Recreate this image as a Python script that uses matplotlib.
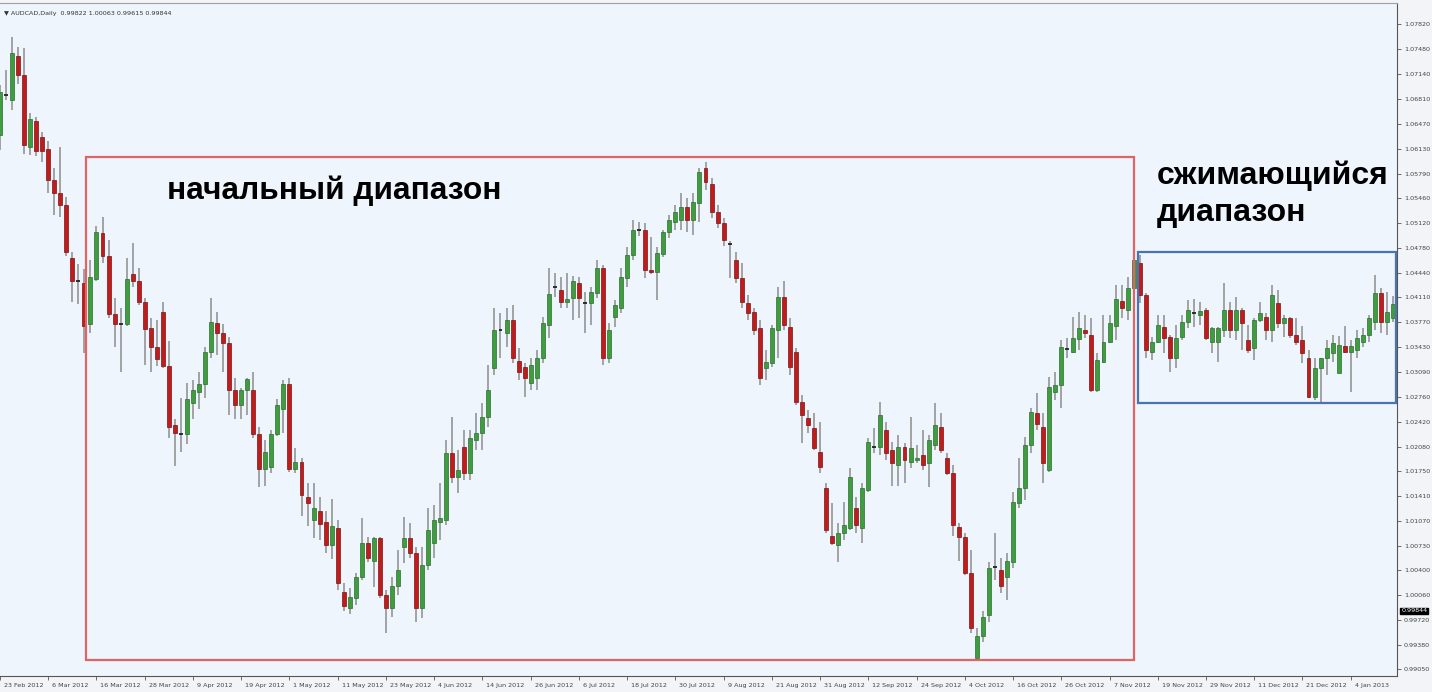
import matplotlib
matplotlib.use("Agg")
import matplotlib.pyplot as plt
from matplotlib.patches import Rectangle
import numpy as np

# AUDCAD daily candles (bar index = trading day)
opens = [1.0631, 1.0686, 1.0679, 1.0739, 1.0713, 1.0615, 1.0650, 1.0629, 1.0612, 1.0570,
         1.0553, 1.0536, 1.0464, 1.0433, 1.0430, 1.0374, 1.0436, 1.0498, 1.0467, 1.0388,
         1.0374, 1.0374, 1.0442, 1.0433, 1.0404, 1.0369, 1.0343, 1.0391, 1.0317, 1.0237,
         1.0225, 1.0225, 1.0267, 1.0282, 1.0293, 1.0336, 1.0376, 1.0362, 1.0349, 1.0285,
         1.0264, 1.0285, 1.0285, 1.0225, 1.0177, 1.0180, 1.0225, 1.0259, 1.0293, 1.0177,
         1.0187, 1.0139, 1.0108, 1.0121, 1.0105, 1.0074, 1.0097, 1.0010, 0.9988, 1.0002,
         1.0030, 1.0077, 1.0053, 1.0083, 1.0006, 0.9989, 1.0019, 1.0071, 1.0083, 1.0063,
         0.9989, 1.0047, 1.0077, 1.0105, 1.0108, 1.0199, 1.0166, 1.0207, 1.0172, 1.0217,
         1.0227, 1.0248, 1.0315, 1.0366, 1.0363, 1.0380, 1.0324, 1.0316, 1.0294, 1.0301,
         1.0329, 1.0373, 1.0425, 1.0421, 1.0404, 1.0410, 1.0430, 1.0403, 1.0403, 1.0417,
         1.0451, 1.0329, 1.0384, 1.0397, 1.0437, 1.0468, 1.0502, 1.0502, 1.0448, 1.0445,
         1.0470, 1.0499, 1.0513, 1.0516, 1.0533, 1.0516, 1.0539, 1.0587, 1.0565, 1.0527,
         1.0512, 1.0483, 1.0461, 1.0437, 1.0403, 1.0391, 1.0369, 1.0315, 1.0321, 1.0366,
         1.0411, 1.0370, 1.0336, 1.0268, 1.0247, 1.0233, 1.0200, 1.0151, 1.0087, 1.0074,
         1.0090, 1.0097, 1.0125, 1.0097, 1.0149, 1.0207, 1.0207, 1.0230, 1.0203, 1.0183,
         1.0207, 1.0187, 1.0189, 1.0196, 1.0185, 1.0210, 1.0234, 1.0193, 1.0172, 1.0098,
         1.0085, 1.0036, 0.9921, 0.9951, 0.9979, 1.0044, 1.0040, 1.0030, 1.0051, 1.0131,
         1.0151, 1.0210, 1.0253, 1.0234, 1.0176, 1.0282, 1.0291, 1.0340, 1.0336, 1.0354,
         1.0366, 1.0359, 1.0285, 1.0323, 1.0350, 1.0372, 1.0406, 1.0393, 1.0423, 1.0457,
         1.0414, 1.0336, 1.0350, 1.0370, 1.0357, 1.0328, 1.0357, 1.0377, 1.0389, 1.0387,
         1.0393, 1.0350, 1.0350, 1.0366, 1.0393, 1.0366, 1.0393, 1.0353, 1.0342, 1.0380,
         1.0384, 1.0366, 1.0403, 1.0376, 1.0383, 1.0359, 1.0353, 1.0329, 1.0275, 1.0315,
         1.0328, 1.0335, 1.0308, 1.0344, 1.0336, 1.0339, 1.0350, 1.0359, 1.0377, 1.0417,
         1.0377, 1.0383]
highs = [1.0699, 1.0720, 1.0765, 1.0751, 1.0750, 1.0661, 1.0656, 1.0635, 1.0623, 1.0587,
         1.0615, 1.0547, 1.0472, 1.0456, 1.0449, 1.0461, 1.0508, 1.0520, 1.0489, 1.0410,
         1.0396, 1.0464, 1.0485, 1.0451, 1.0410, 1.0383, 1.0380, 1.0404, 1.0351, 1.0245,
         1.0274, 1.0295, 1.0298, 1.0309, 1.0343, 1.0410, 1.0391, 1.0374, 1.0357, 1.0301,
         1.0287, 1.0301, 1.0309, 1.0234, 1.0217, 1.0230, 1.0273, 1.0298, 1.0301, 1.0206,
         1.0192, 1.0158, 1.0158, 1.0139, 1.0121, 1.0136, 1.0108, 1.0023, 1.0015, 1.0036,
         1.0111, 1.0085, 1.0085, 1.0085, 1.0013, 1.0030, 1.0067, 1.0112, 1.0104, 1.0071,
         1.0071, 1.0125, 1.0128, 1.0158, 1.0217, 1.0248, 1.0203, 1.0230, 1.0230, 1.0253,
         1.0267, 1.0319, 1.0396, 1.0389, 1.0397, 1.0400, 1.0342, 1.0321, 1.0328, 1.0339,
         1.0384, 1.0451, 1.0444, 1.0438, 1.0444, 1.0440, 1.0438, 1.0418, 1.0425, 1.0461,
         1.0455, 1.0376, 1.0407, 1.0451, 1.0479, 1.0516, 1.0513, 1.0512, 1.0493, 1.0479,
         1.0502, 1.0523, 1.0536, 1.0553, 1.0546, 1.0553, 1.0587, 1.0595, 1.0573, 1.0536,
         1.0519, 1.0487, 1.0472, 1.0457, 1.0414, 1.0397, 1.0380, 1.0339, 1.0373, 1.0425,
         1.0433, 1.0383, 1.0342, 1.0278, 1.0257, 1.0253, 1.0241, 1.0159, 1.0131, 1.0104,
         1.0132, 1.0179, 1.0139, 1.0158, 1.0219, 1.0233, 1.0268, 1.0241, 1.0214, 1.0223,
         1.0213, 1.0248, 1.0210, 1.0230, 1.0223, 1.0267, 1.0253, 1.0199, 1.0183, 1.0104,
         1.0090, 1.0067, 0.9961, 0.9985, 1.0051, 1.0090, 1.0056, 1.0063, 1.0146, 1.0193,
         1.0221, 1.0261, 1.0281, 1.0253, 1.0302, 1.0309, 1.0353, 1.0355, 1.0384, 1.0391,
         1.0387, 1.0383, 1.0335, 1.0387, 1.0387, 1.0427, 1.0427, 1.0438, 1.0471, 1.0468,
         1.0417, 1.0357, 1.0387, 1.0387, 1.0359, 1.0373, 1.0387, 1.0407, 1.0408, 1.0404,
         1.0396, 1.0370, 1.0370, 1.0430, 1.0404, 1.0411, 1.0396, 1.0373, 1.0383, 1.0404,
         1.0389, 1.0427, 1.0421, 1.0387, 1.0384, 1.0383, 1.0372, 1.0339, 1.0328, 1.0329,
         1.0353, 1.0359, 1.0358, 1.0372, 1.0353, 1.0366, 1.0369, 1.0387, 1.0441, 1.0423,
         1.0418, 1.0412]
lows = [1.0611, 1.0679, 1.0665, 1.0701, 1.0606, 1.0604, 1.0603, 1.0595, 1.0553, 1.0523,
        1.0520, 1.0467, 1.0404, 1.0402, 1.0335, 1.0362, 1.0433, 1.0457, 1.0383, 1.0343,
        1.0309, 1.0372, 1.0425, 1.0400, 1.0319, 1.0309, 1.0317, 1.0315, 1.0219, 1.0181,
        1.0200, 1.0211, 1.0245, 1.0259, 1.0274, 1.0329, 1.0332, 1.0309, 1.0251, 1.0245,
        1.0245, 1.0251, 1.0219, 1.0153, 1.0155, 1.0172, 1.0222, 1.0226, 1.0174, 1.0172,
        1.0113, 1.0100, 1.0083, 1.0081, 1.0063, 1.0055, 1.0013, 0.9985, 0.9980, 0.9992,
        1.0026, 1.0051, 1.0017, 1.0002, 0.9954, 0.9976, 1.0006, 1.0049, 1.0056, 0.9969,
        0.9975, 1.0040, 1.0056, 1.0081, 1.0101, 1.0158, 1.0145, 1.0162, 1.0162, 1.0203,
        1.0203, 1.0234, 1.0305, 1.0329, 1.0343, 1.0321, 1.0298, 1.0275, 1.0285, 1.0285,
        1.0321, 1.0355, 1.0411, 1.0397, 1.0397, 1.0380, 1.0383, 1.0362, 1.0373, 1.0410,
        1.0319, 1.0321, 1.0370, 1.0389, 1.0425, 1.0461, 1.0494, 1.0437, 1.0442, 1.0407,
        1.0465, 1.0491, 1.0502, 1.0502, 1.0499, 1.0495, 1.0513, 1.0557, 1.0519, 1.0505,
        1.0480, 1.0437, 1.0430, 1.0396, 1.0380, 1.0359, 1.0291, 1.0298, 1.0316, 1.0329,
        1.0366, 1.0305, 1.0264, 1.0213, 1.0226, 1.0203, 1.0172, 1.0091, 1.0074, 1.0051,
        1.0081, 1.0094, 1.0091, 1.0077, 1.0146, 1.0199, 1.0196, 1.0189, 1.0155, 1.0155,
        1.0158, 1.0179, 1.0185, 1.0176, 1.0153, 1.0203, 1.0199, 1.0169, 1.0087, 1.0053,
        1.0033, 0.9954, 0.9919, 0.9942, 0.9969, 1.0026, 1.0009, 0.9999, 1.0043, 1.0125,
        1.0135, 1.0199, 1.0230, 1.0159, 1.0173, 1.0271, 1.0261, 1.0329, 1.0335, 1.0339,
        1.0355, 1.0282, 1.0282, 1.0321, 1.0349, 1.0353, 1.0383, 1.0380, 1.0397, 1.0403,
        1.0329, 1.0325, 1.0349, 1.0335, 1.0309, 1.0315, 1.0353, 1.0369, 1.0370, 1.0373,
        1.0353, 1.0335, 1.0323, 1.0357, 1.0355, 1.0353, 1.0339, 1.0335, 1.0325, 1.0377,
        1.0353, 1.0350, 1.0369, 1.0357, 1.0355, 1.0346, 1.0321, 1.0274, 1.0271, 1.0268,
        1.0305, 1.0323, 1.0308, 1.0335, 1.0282, 1.0329, 1.0343, 1.0350, 1.0366, 1.0363,
        1.0359, 1.0377]
closes = [1.0690, 1.0686, 1.0743, 1.0713, 1.0618, 1.0653, 1.0610, 1.0610, 1.0570, 1.0553,
          1.0536, 1.0472, 1.0433, 1.0433, 1.0372, 1.0438, 1.0499, 1.0467, 1.0388, 1.0374,
          1.0374, 1.0436, 1.0433, 1.0404, 1.0368, 1.0343, 1.0327, 1.0317, 1.0234, 1.0226,
          1.0225, 1.0273, 1.0285, 1.0293, 1.0336, 1.0377, 1.0363, 1.0349, 1.0285, 1.0264,
          1.0285, 1.0300, 1.0225, 1.0177, 1.0200, 1.0225, 1.0264, 1.0293, 1.0177, 1.0187,
          1.0142, 1.0131, 1.0124, 1.0102, 1.0074, 1.0100, 1.0023, 0.9991, 1.0004, 1.0030,
          1.0077, 1.0056, 1.0083, 1.0006, 0.9988, 1.0019, 1.0040, 1.0083, 1.0063, 0.9989,
          1.0047, 1.0094, 1.0108, 1.0111, 1.0199, 1.0166, 1.0176, 1.0172, 1.0219, 1.0227,
          1.0248, 1.0285, 1.0366, 1.0366, 1.0380, 1.0328, 1.0309, 1.0301, 1.0319, 1.0329,
          1.0376, 1.0415, 1.0425, 1.0404, 1.0408, 1.0433, 1.0410, 1.0403, 1.0418, 1.0451,
          1.0329, 1.0366, 1.0400, 1.0438, 1.0468, 1.0502, 1.0502, 1.0448, 1.0445, 1.0471,
          1.0499, 1.0516, 1.0527, 1.0533, 1.0516, 1.0540, 1.0581, 1.0567, 1.0527, 1.0512,
          1.0489, 1.0483, 1.0437, 1.0404, 1.0389, 1.0366, 1.0301, 1.0323, 1.0369, 1.0411,
          1.0373, 1.0316, 1.0268, 1.0251, 1.0237, 1.0206, 1.0180, 1.0094, 1.0077, 1.0090,
          1.0101, 1.0166, 1.0101, 1.0151, 1.0214, 1.0207, 1.0251, 1.0199, 1.0185, 1.0207,
          1.0189, 1.0206, 1.0193, 1.0183, 1.0217, 1.0237, 1.0203, 1.0172, 1.0101, 1.0085,
          1.0036, 0.9961, 0.9951, 0.9976, 1.0043, 1.0044, 1.0019, 1.0052, 1.0132, 1.0151,
          1.0210, 1.0255, 1.0238, 1.0185, 1.0289, 1.0291, 1.0343, 1.0340, 1.0355, 1.0369,
          1.0362, 1.0285, 1.0325, 1.0350, 1.0376, 1.0408, 1.0397, 1.0423, 1.0461, 1.0414,
          1.0339, 1.0350, 1.0373, 1.0355, 1.0328, 1.0355, 1.0377, 1.0393, 1.0389, 1.0392,
          1.0355, 1.0369, 1.0369, 1.0393, 1.0366, 1.0393, 1.0376, 1.0339, 1.0380, 1.0389,
          1.0366, 1.0414, 1.0376, 1.0383, 1.0359, 1.0350, 1.0335, 1.0275, 1.0315, 1.0328,
          1.0342, 1.0349, 1.0346, 1.0336, 1.0344, 1.0355, 1.0359, 1.0383, 1.0417, 1.0377,
          1.0391, 1.0402]

date_labels = ['23 Feb 2012', '6 Mar 2012', '16 Mar 2012', '28 Mar 2012', '9 Apr 2012',
               '19 Apr 2012', '1 May 2012', '11 May 2012', '23 May 2012', '4 Jun 2012',
               '14 Jun 2012', '26 Jun 2012', '6 Jul 2012', '18 Jul 2012', '30 Jul 2012',
               '9 Aug 2012', '21 Aug 2012', '31 Aug 2012', '12 Sep 2012', '24 Sep 2012',
               '4 Oct 2012', '16 Oct 2012', '26 Oct 2012', '7 Nov 2012', '19 Nov 2012',
               '29 Nov 2012', '11 Dec 2012', '21 Dec 2012', '4 Jan 2013']
price_ticks = [1.07820, 1.07480, 1.07140, 1.06810, 1.06470, 1.06130, 1.05790, 1.05460,
               1.05120, 1.04780, 1.04440, 1.04110, 1.03770, 1.03430, 1.03090, 1.02760,
               1.02420, 1.02080, 1.01750, 1.01410, 1.01070, 1.00730, 1.00400, 1.00060,
               0.99720, 0.99380, 0.99050]
last_price = 0.99844
header = 'AUDCAD,Daily  0.99822 1.00063 0.99615 0.99844'

o = np.array(opens)
c = np.array(closes)
h = np.maximum(np.array(highs), np.maximum(o, c))
l = np.minimum(np.array(lows), np.minimum(o, c))
x = np.arange(len(o))

BG = '#eef5fc'
GREEN, GREEN_EDGE = '#3f9c3f', '#2c6e2c'
RED, RED_EDGE = '#c01c1c', '#7c1212'
WICK = '#8c8c8c'
SMALL = 4.6

fig = plt.figure(figsize=(14.32, 6.92), dpi=100, facecolor='#f2f4f7')
ax = fig.add_axes([0, 16 / 692, 1397 / 1432, 673 / 692], facecolor=BG)

# wicks first, then bodies on top
ax.vlines(x, l, h, color=WICK, linewidth=1.1, zorder=2)
up = c > o
down = c < o
flat = np.abs(c - o) < 0.00005
bw = 0.66
ax.bar(x[up], (c - o)[up], bottom=o[up], width=bw, color=GREEN,
       edgecolor=GREEN_EDGE, linewidth=0.5, zorder=3)
ax.bar(x[down & ~flat], (o - c)[down & ~flat], bottom=c[down & ~flat], width=bw,
       color=RED, edgecolor=RED_EDGE, linewidth=0.5, zorder=3)
ax.hlines(o[flat], x[flat] - bw / 2, x[flat] + bw / 2, color='#222222',
          linewidth=1.3, zorder=3)

ax.set_xlim(0, 1397 / 6.03)
ax.set_ylim(0.98960, 1.08110)

# MT4 style axes: prices on the right, dates under the bars
ax.yaxis.tick_right()
ax.set_yticks(price_ticks)
ax.set_yticklabels(['%.5f' % v for v in price_ticks])
ax.tick_params(axis='y', direction='out', length=3, width=0.6, colors='#555555',
               labelsize=SMALL, pad=2, labelcolor='#444444')
ax.set_xticks(np.arange(0, len(date_labels) * 8, 8))
ax.set_xticklabels(['  ' + d for d in date_labels], ha='left')
ax.tick_params(axis='x', direction='out', length=3, width=0.6, colors='#555555',
               labelsize=SMALL, pad=2, labelcolor='#444444')
ax.spines['left'].set_visible(False)
ax.spines['top'].set_color('#a0a0a0')
ax.spines['right'].set_color('#555555')
ax.spines['bottom'].set_color('#555555')
for s in ('top', 'right', 'bottom'):
    ax.spines[s].set_linewidth(0.8)

# current price marker on the price scale
ax.text(1.003, last_price, '%.5f' % last_price, transform=ax.get_yaxis_transform(),
        fontsize=SMALL, color='white', va='center', ha='left',
        bbox=dict(boxstyle='square,pad=0.15', fc='black', ec='black'))

ax.text(0.003, 0.985, '\u25bc ' + header, transform=ax.transAxes, fontsize=SMALL,
        color='#333333', va='center', ha='left')

# range boxes (axes fraction)
ax.add_patch(Rectangle((86 / 1397, 16 / 673), (1134 - 86) / 1397, (660 - 157) / 673,
                       transform=ax.transAxes, fill=False, edgecolor='#e06464',
                       linewidth=1.6, zorder=5))
ax.add_patch(Rectangle((1138 / 1397, (676 - 403) / 673), (1396 - 1138) / 1397,
                       (403 - 252) / 673, transform=ax.transAxes, fill=False,
                       edgecolor='#4a74b0', linewidth=1.6, zorder=5))

ax.text(167 / 1397, (676 - 191) / 673, 'начальный диапазон', transform=ax.transAxes,
        fontsize=22.8, fontweight='bold', family=['Liberation Sans', 'DejaVu Sans'],
        va='center', ha='left', color='black')
ax.text(1157 / 1397, (676 - 194) / 673, 'сжимающийся\nдиапазон', transform=ax.transAxes,
        fontsize=23, fontweight='bold', family=['Liberation Sans', 'DejaVu Sans'],
        va='center', ha='left', color='black', linespacing=1.3)

fig.savefig('out.png', dpi=100, facecolor=fig.get_facecolor())
